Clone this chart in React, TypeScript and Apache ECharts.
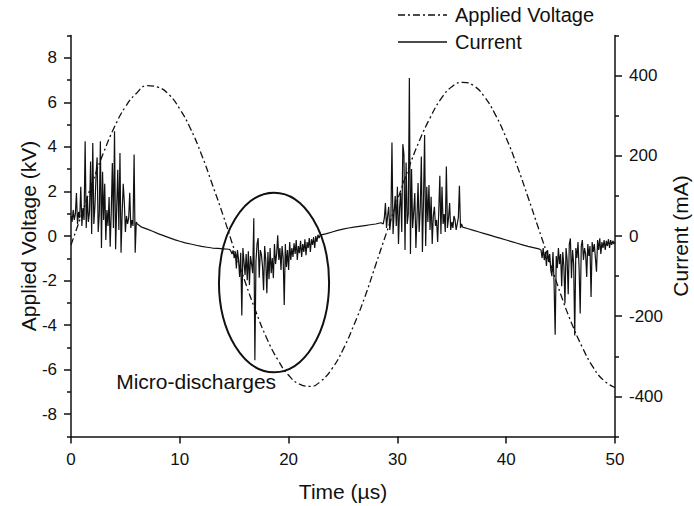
import React, { useEffect, useRef } from "react";
import * as echarts from "echarts";

// ---- Applied voltage (kV), sampled every 1 µs ----
const voltageTime = [
  0, 1, 2, 3, 4, 5, 6, 7, 8, 9, 10, 11, 12, 13, 14, 15, 16, 17, 18, 19, 20, 21, 22, 23, 24, 25,
  26, 27, 28, 29, 30, 31, 32, 33, 34, 35, 36, 37, 38, 39, 40, 41, 42, 43, 44, 45, 46, 47, 48, 49, 50,
];
const voltageKV = [
  -0.4, 1.0, 2.45, 3.75, 4.9, 5.8, 6.4, 6.75, 6.68, 6.35, 5.7, 4.8, 3.65, 2.3, 0.9, -0.6, -2.05,
  -3.4, -4.6, -5.55, -6.25, -6.65, -6.75, -6.5, -5.95, -5.1, -4.0, -2.75, -1.3, 0.15, 1.6, 3.0,
  4.25, 5.3, 6.15, 6.7, 6.9, 6.75, 6.25, 5.45, 4.4, 3.15, 1.75, 0.3, -1.15, -2.6, -3.9, -5.0,
  -5.9, -6.5, -6.8,
];

// ---- Current (mA), read segment by segment ----
// burst 1: 0.0 – 6.1 µs, every 0.1 µs
const currentBurst1 = [
  50, 35, 65, 40, 55, 107, 30, 60, 45, 123,
  25, 70, 40, 236, 20, 100, 35, 60, 186, 5,
  232, 30, 75, 150, 196, 10, 55, 236, -30, 160,
  40, 130, -10, 65, 25, 97, -27, 60, 182, 20,
  261, -33, 70, 165, 15, 207, -42, 55, 130, 85,
  10, 50, 30, 45, 108, 20, 40, 25, 203, -42,
  35, 30,
];
// quiet stretch: 6.5 – 14.5 µs, every 0.5 µs
const currentQuietA = [22, 17, 12, 6, 1, -4, -9, -13, -17, -20, -23, -26, -28, -30, -31, -32, -33];
// burst 2 (micro-discharges): 14.6 – 22.9 µs, every 0.1 µs
const currentBurst2 = [
  -34, -38, -45, -36, -55, -40, -81, -35, -60, -102,
  -42, -198, -30, -65, -97, -45, -110, -38, -122, -50,
  -70, -93, 44, -310, -63, -20, -5, -104, -35, -46,
  -75, -135, -25, -60, -143, -40, -108, -30, -93, -55,
  -105, -20, -70, -45, 2, -60, -30, -85, -25, -55,
  -172, -20, -77, -35, -85, -15, -60, -30, -52, -18,
  -45, -10, -60, -25, -43, -12, -52, -20, -40, -8,
  -48, -15, -30, -5, -40, -8, -22, -3, -30, 0,
  -15, 3, -5, 2,
];
// quiet stretch: 23.5 – 28.5 µs, every 0.5 µs
const currentQuietB = [6, 10, 14, 17, 20, 22, 24, 26, 28, 30, 33];
// burst 3: 28.7 – 36.0 µs, every 0.1 µs
const currentBurst3 = [
  30, 45, 82, 20, 50, 73, 15, 40, 233, 5,
  60, 100, 25, 123, -20, 70, 107, 10, 229, 204,
  -35, 183, 30, 55, 394, -45, 167, 20, 60, 107,
  -30, 45, 132, 10, 70, 198, -40, 90, 252, -25,
  123, 35, 127, 15, 98, -20, 50, 73, 25, 40,
  -15, 60, 150, 5, 123, 30, 55, 10, 173, 20,
  45, 82, 15, 35, 20, 50, 40, 15, 30, 45,
  125, 20, 30, 22,
];
// quiet stretch: 36.5 – 43.0 µs, every 0.5 µs
const currentQuietC = [18, 14, 10, 6, 2, -2, -6, -10, -14, -18, -22, -26, -29, -32];
// burst 4: 43.2 – 50.0 µs, every 0.1 µs
const currentBurst4 = [
  -35, -55, -30, -60, -40, -75, -35, -65, -45, -85,
  -100, -40, -117, -246, -50, -80, -30, -70, -45, -125,
  -40, -75, -168, -30, -60, -145, -20, -6, -105, -35,
  -70, -248, -30, -55, -15, -80, -193, -25, -10, -60,
  -30, -45, -102, -20, -50, -25, -152, -15, -40, -20,
  -55, -89, -10, -35, -6, -45, -15, -30, -10, -35,
  -12, -25, -8, -30, -10, -22, -12, -20, -15,
];
const segmentStarts = [0.0, 6.5, 14.6, 23.5, 28.7, 36.5, 43.2];
const segmentSteps = [0.1, 0.5, 0.1, 0.5, 0.1, 0.5, 0.1];
const segmentValues = [
  currentBurst1, currentQuietA, currentBurst2, currentQuietB, currentBurst3, currentQuietC, currentBurst4,
];

// ---- Axis ticks ----
const xTicks = [0, 10, 20, 30, 40, 50];
const kvMajor = [-8, -6, -4, -2, 0, 2, 4, 6, 8];
const kvMinor = [-9, -7, -5, -3, -1, 1, 3, 5, 7, 9];
const maMajor = [-400, -200, 0, 200, 400];
const maMinor = [-500, -300, -100, 100, 300, 500];

// ---- Annotation (data units) ----
const ellipseCenter = [18.66, -2.09];
const ellipseRadius = [5.06, 4.03];
const annotationText = "Micro-discharges";
const annotationAt = [11.5, -6.53];

const FONT = "'Liberation Sans', Arial, Helvetica, sans-serif";
const INK = "#111";

export default function App() {
  const ref = useRef<HTMLDivElement>(null);
  useEffect(() => {
    if (!ref.current) return;
    const chart = echarts.init(ref.current, null, { renderer: "svg" });

    const currentData: number[][] = [];
    segmentValues.forEach((vals, s) => {
      vals.forEach((v, i) => {
        currentData.push([+(segmentStarts[s] + i * segmentSteps[s]).toFixed(2), v]);
      });
    });
    const voltageData = voltageTime.map((t, i) => [t, voltageKV[i]]);

    const lineStyle = { color: INK, width: 1.5 };
    const labelStyle = { color: INK, fontSize: 17, fontFamily: FONT };
    const nameStyle = { color: INK, fontSize: 21, fontFamily: FONT };

    chart.setOption({
      animation: false,
      grid: {
        left: 71,
        right: 79,
        top: 35.5,
        bottom: 69.5,
        containLabel: false,
        outerBoundsMode: "none",
      },
      xAxis: {
        type: "value",
        min: xTicks[0],
        max: xTicks[xTicks.length - 1],
        interval: 10,
        axisLine: { show: true, onZero: false, lineStyle },
        axisTick: { show: true, inside: false, length: 7, lineStyle },
        axisLabel: { ...labelStyle, margin: 14 },
        splitLine: { show: false },
        name: "Time (µs)",
        nameLocation: "middle",
        nameGap: 44,
        nameMoveOverlap: false,
        nameTextStyle: nameStyle,
      },
      yAxis: [
        {
          type: "value",
          position: "left",
          min: -9,
          max: 9,
          axisLine: { show: true, onZero: false, lineStyle },
          axisTick: { show: true, inside: false, length: 7, customValues: kvMajor, lineStyle },
          axisLabel: { ...labelStyle, margin: 14, customValues: kvMajor },
          splitLine: { show: false },
          name: "Applied Voltage (kV)",
          nameLocation: "middle",
          nameRotate: 90,
          nameGap: 32,
          nameMoveOverlap: false,
          nameTextStyle: nameStyle,
        },
        {
          type: "value",
          position: "right",
          min: -500,
          max: 500,
          axisLine: { show: true, onZero: false, lineStyle },
          axisTick: { show: true, inside: false, length: 7, customValues: maMajor, lineStyle },
          axisLabel: { ...labelStyle, margin: 14, customValues: maMajor },
          splitLine: { show: false },
          name: "Current (mA)",
          nameLocation: "middle",
          nameRotate: 90,
          nameGap: 55,
          nameMoveOverlap: false,
          nameTextStyle: nameStyle,
        },
        {
          type: "value",
          position: "left",
          min: -9,
          max: 9,
          axisLine: { show: false },
          axisTick: { show: true, inside: false, length: 4, customValues: kvMinor, lineStyle },
          axisLabel: { show: false },
          splitLine: { show: false },
        },
        {
          type: "value",
          position: "right",
          min: -500,
          max: 500,
          axisLine: { show: false },
          axisTick: { show: true, inside: false, length: 4, customValues: maMinor, lineStyle },
          axisLabel: { show: false },
          splitLine: { show: false },
        },
      ],
      series: [
        {
          type: "line",
          name: "Applied Voltage",
          yAxisIndex: 0,
          data: voltageData,
          smooth: true,
          symbol: "none",
          lineStyle: { color: INK, width: 1.3, type: [7, 3, 2, 3] },
          z: 2,
        },
        {
          type: "line",
          name: "Current",
          yAxisIndex: 1,
          data: currentData,
          symbol: "none",
          lineStyle: { color: INK, width: 1.2 },
          z: 3,
        },
      ],
    });

    const c = chart.convertToPixel({ xAxisIndex: 0, yAxisIndex: 0 }, ellipseCenter) as number[];
    const e = chart.convertToPixel({ xAxisIndex: 0, yAxisIndex: 0 }, [
      ellipseCenter[0] + ellipseRadius[0],
      ellipseCenter[1] + ellipseRadius[1],
    ]) as number[];
    const a = chart.convertToPixel({ xAxisIndex: 0, yAxisIndex: 0 }, annotationAt) as number[];

    chart.setOption({
      graphic: [
        {
          type: "line",
          shape: { x1: 398, y1: 15, x2: 447, y2: 15 },
          style: { stroke: INK, lineWidth: 1.3, lineDash: [7, 3, 2, 3] },
        },
        {
          type: "text",
          x: 455,
          y: 15,
          style: { text: "Applied Voltage", fontSize: 20, fontFamily: FONT, fill: INK, verticalAlign: "middle", align: "left" },
        },
        {
          type: "line",
          shape: { x1: 398, y1: 42, x2: 447, y2: 42 },
          style: { stroke: INK, lineWidth: 1.3 },
        },
        {
          type: "text",
          x: 455,
          y: 42,
          style: { text: "Current", fontSize: 20, fontFamily: FONT, fill: INK, verticalAlign: "middle", align: "left" },
        },
        {
          type: "ellipse",
          shape: { cx: c[0], cy: c[1], rx: Math.abs(e[0] - c[0]), ry: Math.abs(c[1] - e[1]) },
          style: { fill: "none", stroke: INK, lineWidth: 2 },
          z: 10,
        },
        {
          type: "text",
          x: a[0],
          y: a[1],
          style: { text: annotationText, fontSize: 21, fontFamily: FONT, fill: INK, verticalAlign: "middle", align: "center" },
          z: 10,
        },
      ],
    });

    return () => chart.dispose();
  }, []);

  return (
    <div
      ref={ref}
      style={{ position: "absolute", left: 0, top: 0, width: 694, height: 506, background: "#fff" }}
    />
  );
}
